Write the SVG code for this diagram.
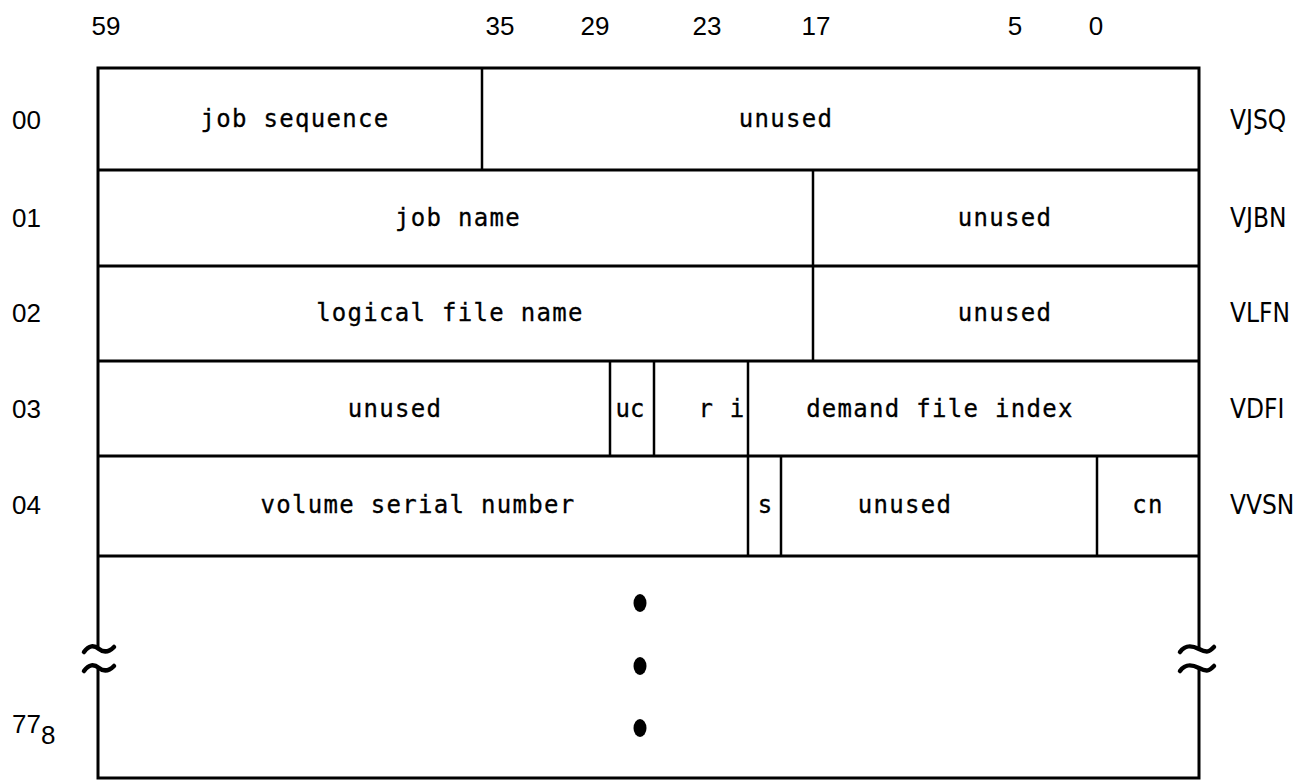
<svg xmlns="http://www.w3.org/2000/svg" width="1302" height="781" viewBox="0 0 1302 781">
<style>
.ln{stroke:#000;stroke-width:2.5;fill:none}
.bd{stroke:#000;stroke-width:3;fill:none}
.t{font-family:"DejaVu Sans Mono","Liberation Mono",monospace;font-size:24px;letter-spacing:1.3px;fill:#000;stroke:#000;stroke-width:0.3}
.n{font-family:"Liberation Sans",Arial,sans-serif;font-size:26px;fill:#000}
.r{font-family:"Liberation Sans Narrow","DejaVu Sans Condensed","Liberation Sans",sans-serif;font-size:26px;fill:#000}
.c{text-anchor:middle}
.tl{stroke:#000;stroke-width:4.5;fill:none;stroke-linecap:round}
</style>
<rect width="1302" height="781" fill="#fff"/>
<g id="bit-labels" class="n">
<text x="106" y="35" class="c">59</text>
<text x="500" y="35" class="c">35</text>
<text x="595" y="35" class="c">29</text>
<text x="707" y="35" class="c">23</text>
<text x="816" y="35" class="c">17</text>
<text x="1015" y="35" class="c">5</text>
<text x="1096" y="35" class="c">0</text>
</g>
<g id="frame">
<path class="bd" d="M98,649 V68 H1199 V649"/>
<path class="bd" d="M98,669 V778 H1199 V669"/>
<path class="tl" d="M84,652 C89,645 94,645 99,649 S109,652 114,647"/>
<path class="tl" d="M84,671 C89,664 94,664 99,668 S109,671 114,666"/>
<path class="tl" d="M1180,652 C1185,645 1191,645 1199,649 S1209,652 1214,647"/>
<path class="tl" d="M1180,671 C1185,664 1191,664 1199,668 S1209,671 1214,666"/>
</g>
<g id="row00">
<text x="12" y="129" class="n">00</text>
<line class="ln" x1="482" y1="68" x2="482" y2="170"/>
<text x="295" y="127" class="t c">job sequence</text>
<text x="786" y="127" class="t c">unused</text>
<text x="1230" y="129" class="r">VJSQ</text>
</g>
<g id="row01">
<line class="bd" x1="98" y1="170" x2="1199" y2="170"/>
<text x="12" y="227" class="n">01</text>
<line class="ln" x1="813" y1="170" x2="813" y2="266"/>
<text x="458" y="226" class="t c">job name</text>
<text x="1005" y="226" class="t c">unused</text>
<text x="1230" y="227" class="r">VJBN</text>
</g>
<g id="row02">
<line class="bd" x1="98" y1="266" x2="1199" y2="266"/>
<text x="12" y="322" class="n">02</text>
<line class="ln" x1="813" y1="266" x2="813" y2="361"/>
<text x="450" y="321" class="t c">logical file name</text>
<text x="1005" y="321" class="t c">unused</text>
<text x="1230" y="322" class="r">VLFN</text>
</g>
<g id="row03">
<line class="bd" x1="98" y1="361" x2="1199" y2="361"/>
<text x="12" y="418" class="n">03</text>
<line class="ln" x1="610" y1="361" x2="610" y2="456"/>
<line class="ln" x1="654" y1="361" x2="654" y2="456"/>
<line class="ln" x1="748" y1="361" x2="748" y2="456"/>
<text x="395" y="417" class="t c">unused</text>
<text x="630" y="417" class="t c" style="letter-spacing:0">uc</text>
<text x="722" y="417" class="t c">r i</text>
<text x="940" y="417" class="t c">demand file index</text>
<text x="1230" y="418" class="r">VDFI</text>
</g>
<g id="row04">
<line class="bd" x1="98" y1="456" x2="1199" y2="456"/>
<text x="12" y="514" class="n">04</text>
<line class="ln" x1="748" y1="456" x2="748" y2="556"/>
<line class="ln" x1="781" y1="456" x2="781" y2="556"/>
<line class="ln" x1="1097" y1="456" x2="1097" y2="556"/>
<text x="418" y="513" class="t c">volume serial number</text>
<text x="765" y="513" class="t c" style="letter-spacing:0">s</text>
<text x="905" y="513" class="t c">unused</text>
<text x="1148" y="513" class="t c">cn</text>
<text x="1230" y="514" class="r">VVSN</text>
</g>
<g id="row77">
<line class="bd" x1="98" y1="556" x2="1199" y2="556"/>
<text x="12" y="733" class="n">77<tspan dy="11">8</tspan></text>
<ellipse cx="640" cy="603" rx="6.5" ry="9"/>
<ellipse cx="640" cy="666" rx="6.5" ry="9"/>
<ellipse cx="640" cy="728" rx="6.5" ry="9"/>
</g>
</svg>
